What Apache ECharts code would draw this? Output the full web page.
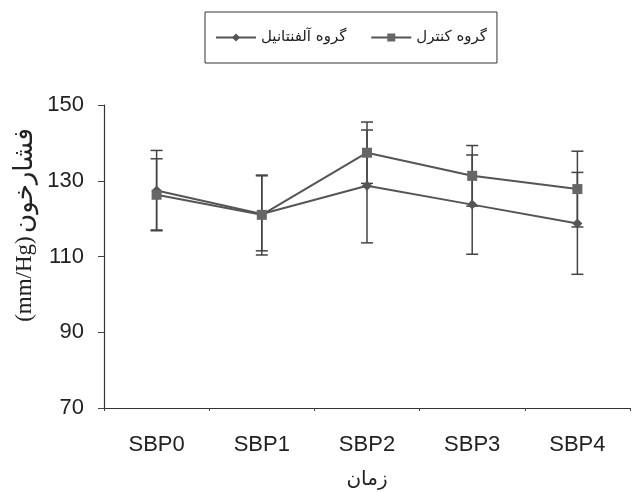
<!DOCTYPE html>
<html>
<head>
<meta charset="utf-8">
<script src="https://cdn.jsdelivr.net/npm/echarts@6/dist/echarts.min.js"></script>
<style>html,body{margin:0;padding:0;background:#fff}#c{width:640px;height:492px}</style>
</head>
<body>
<div id="c"></div>
<script>
var categories = ['SBP0', 'SBP1', 'SBP2', 'SBP3', 'SBP4'];
var seriesNames = ['گروه آلفنتانیل', 'گروه کنترل'];
var alfMean = [127.4, 121.2, 128.7, 123.7, 118.7];
var alfHigh = [138.0, 131.5, 143.4, 136.8, 132.2];
var alfLow  = [117.0, 110.4, 113.6, 110.6, 105.3];
var ctrlMean = [126.3, 121.0, 137.4, 131.3, 127.8];
var ctrlHigh = [135.8, 131.3, 145.5, 139.3, 137.8];
var ctrlLow  = [116.8, 111.5, 129.3, 123.3, 117.8];
var yTicks = [70, 90, 110, 130, 150];
var yTitleUnit = '(mm/Hg)';
var yTitleWord = 'فشارخون';
var xTitle = 'زمان';

var chart = echarts.init(document.getElementById('c'), null, {renderer: 'canvas'});

function errData(low, high) {
  return categories.map(function (c, i) { return [i, low[i], high[i]]; });
}
function errRender(params, api) {
  var x = api.value(0);
  var lo = api.coord([x, api.value(1)]);
  var hi = api.coord([x, api.value(2)]);
  var hw = 6;
  var st = {stroke: '#444', lineWidth: 1.5, fill: null};
  return {
    type: 'group',
    children: [
      {type: 'line', shape: {x1: lo[0], y1: lo[1], x2: hi[0], y2: hi[1]}, style: st},
      {type: 'line', shape: {x1: lo[0] - hw, y1: lo[1], x2: lo[0] + hw, y2: lo[1]}, style: st},
      {type: 'line', shape: {x1: hi[0] - hw, y1: hi[1], x2: hi[0] + hw, y2: hi[1]}, style: st}
    ]
  };
}

var option = {
  animation: false,
  backgroundColor: '#fff',
  legend: {
    data: seriesNames,
    left: 205,
    top: 12,
    padding: [18, 10, 18, 10],
    itemGap: 24,
    itemWidth: 40,
    itemHeight: 10,
    borderColor: '#333',
    borderWidth: 1,
    textStyle: {fontFamily: 'DejaVu Sans', fontSize: 15, color: '#222'}
  },
  grid: {left: 104, right: 10, top: 105, bottom: 84, outerBoundsMode: 'none', containLabel: false},
  xAxis: {
    type: 'category',
    data: categories,
    boundaryGap: true,
    name: xTitle,
    nameLocation: 'middle',
    nameGap: 62,
    nameTextStyle: {fontFamily: 'DejaVu Sans', fontSize: 20, color: '#222'},
    axisLine: {lineStyle: {color: '#333', width: 1.2}},
    axisTick: {show: true, length: 3, lineStyle: {color: '#444'}},
    axisLabel: {margin: 26, fontFamily: 'Liberation Sans', fontSize: 22, color: '#222'}
  },
  yAxis: {
    type: 'value',
    min: yTicks[0],
    max: yTicks[yTicks.length - 1],
    interval: 20,
    splitLine: {show: false},
    axisLine: {show: true, lineStyle: {color: '#333', width: 1.2}},
    axisTick: {show: true, length: 6, lineStyle: {color: '#444'}},
    axisLabel: {margin: 20, fontFamily: 'Liberation Sans', fontSize: 22, color: '#222'}
  },
  graphic: [{
    type: 'text',
    x: 25,
    y: 225,
    rotation: Math.PI / 2,
    style: {
      text: '{u|' + yTitleUnit + '} {w|' + yTitleWord + '}',
      align: 'center',
      verticalAlign: 'middle',
      fill: '#222',
      rich: {
        u: {fontFamily: 'Liberation Serif', fontSize: 23, fill: '#222'},
        w: {fontFamily: 'DejaVu Sans', fontSize: 26, fill: '#222'}
      }
    }
  }],
  series: [
    {type: 'custom', name: 'errAlf', data: errData(alfLow, alfHigh), renderItem: errRender, z: 1, silent: true},
    {type: 'custom', name: 'errCtrl', data: errData(ctrlLow, ctrlHigh), renderItem: errRender, z: 1, silent: true},
    {
      type: 'line', name: seriesNames[0], data: alfMean,
      symbol: 'diamond', symbolSize: 10, z: 3,
      lineStyle: {color: '#555', width: 2},
      itemStyle: {color: '#555'}
    },
    {
      type: 'line', name: seriesNames[1], data: ctrlMean,
      symbol: 'rect', symbolSize: 10, z: 4,
      lineStyle: {color: '#555', width: 2},
      itemStyle: {color: '#666'}
    }
  ]
};
chart.setOption(option);
</script>
</body>
</html>
